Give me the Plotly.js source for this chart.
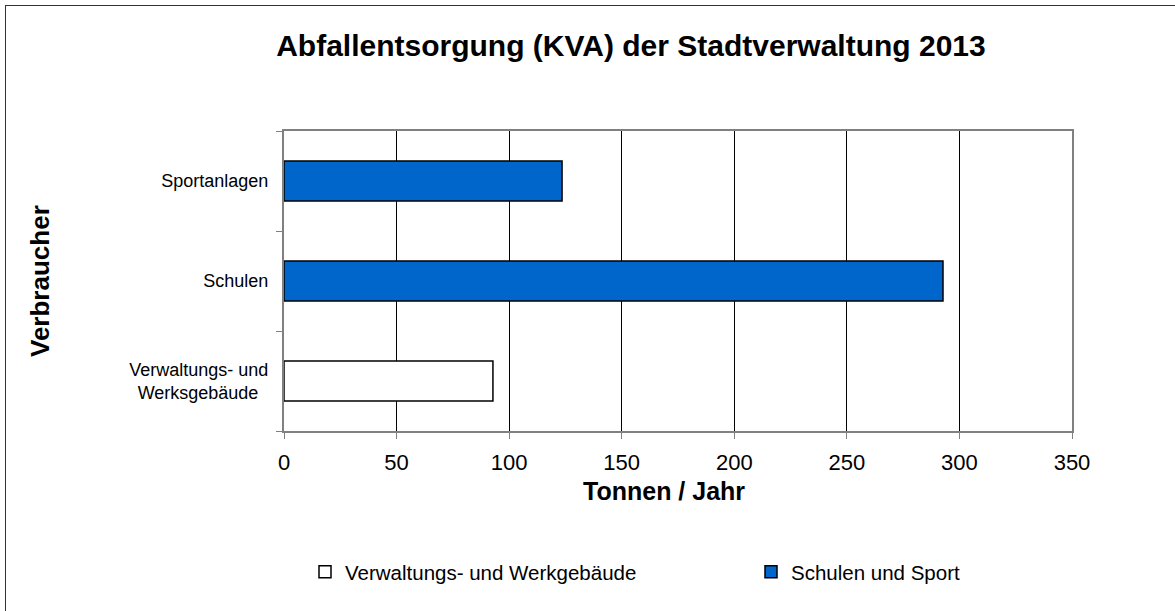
<!DOCTYPE html>
<html>
<head>
<meta charset="utf-8">
<script src="https://cdn.plot.ly/plotly-3.0.1.min.js"></script>
<style>
html,body{margin:0;padding:0;background:#fff;}
#wrap{position:relative;width:1175px;height:611px;overflow:hidden;}
#chart{width:1175px;height:611px;}
#frame{position:absolute;left:5px;top:5px;width:1400px;height:800px;border-left:1.5px solid #333;border-top:1.5px solid #333;pointer-events:none;}
</style>
</head>
<body>
<div id="wrap"><div id="chart"></div><div id="frame"></div></div>
<script>
const categories = ['Verwaltungs- und<br>Werksgebäude&nbsp;&nbsp;', 'Schulen', 'Sportanlagen'];
const seriesNames = ['Verwaltungs- und Werkgebäude', 'Schulen und Sport'];
const verwaltungValues = [92.8, null, null];
const schulenSportValues = [null, 292.7, 123.5];
const xTickValues = [0, 50, 100, 150, 200, 250, 300, 350];

const font = '"Liberation Sans", Arial, sans-serif';

const traces = [
  {
    type: 'bar', orientation: 'h', name: seriesNames[0], legend: 'legend',
    y: categories, x: verwaltungValues, width: 0.4,
    marker: {color: '#ffffff', line: {color: '#000000', width: 1.5}},
    hoverinfo: 'x+y'
  },
  {
    type: 'bar', orientation: 'h', name: seriesNames[1], legend: 'legend2',
    y: categories, x: schulenSportValues, width: 0.4,
    marker: {color: '#0066CC', line: {color: '#000000', width: 1.5}},
    hoverinfo: 'x+y'
  }
];

const legendCommon = {
  orientation: 'h',
  xref: 'container', xanchor: 'left',
  yref: 'container', y: 1 - 572/611, yanchor: 'middle',
  font: {family: font, size: 20.5, color: '#000'},
  itemwidth: 30, bgcolor: 'rgba(0,0,0,0)'
};

const layout = {
  width: 1175, height: 611,
  margin: {l: 284, r: 103, t: 131, b: 180},
  paper_bgcolor: '#ffffff', plot_bgcolor: '#ffffff',
  barmode: 'overlay',
  showlegend: true,
  font: {family: font, color: '#000'},
  title: {
    text: '<b>Abfallentsorgung (KVA) der Stadtverwaltung 2013</b>',
    font: {family: font, size: 30, color: '#000'},
    xref: 'container', x: 0.537, xanchor: 'center',
    yref: 'container', y: 1 - 45/611, yanchor: 'middle'
  },
  xaxis: {
    range: [0, 350], tickvals: xTickValues,
    showgrid: true, gridcolor: '#000000', gridwidth: 1,
    showline: true, linecolor: '#808080', linewidth: 2, mirror: true,
    ticks: 'outside', ticklen: 6, tickcolor: '#808080', tickwidth: 1,
    tickfont: {family: font, size: 22, color: '#000'},
    ticklabelstandoff: 5,
    zeroline: false, fixedrange: true
  },
  yaxis: {
    type: 'category', categoryorder: 'array', categoryarray: categories,
    range: [-0.5, 2.5],
    showgrid: false,
    showline: true, linecolor: '#808080', linewidth: 2, mirror: true,
    ticks: 'outside', tickson: 'boundaries', ticklen: 6, tickcolor: '#808080', tickwidth: 1,
    tickfont: {family: font, size: 18, color: '#000'},
    ticklabelstandoff: 10,
    fixedrange: true
  },
  annotations: [
    {text: '<b>Tonnen / Jahr</b>', xref: 'paper', yref: 'paper',
     x: (664-284)/788, y: (431-491)/300, xanchor: 'center', yanchor: 'middle',
     showarrow: false, font: {family: font, size: 25, color: '#000'}},
    {text: '<b>Verbraucher</b>', xref: 'paper', yref: 'paper', textangle: -90,
     x: (40-284)/788, y: (431-281)/300, xanchor: 'center', yanchor: 'middle',
     showarrow: false, font: {family: font, size: 26, color: '#000'}}
  ],
  legend: Object.assign({}, legendCommon, {x: 305/1175}),
  legend2: Object.assign({}, legendCommon, {x: 751/1175})
};

Plotly.newPlot('chart', traces, layout, {displayModeBar: false, staticPlot: true});
</script>
</body>
</html>
